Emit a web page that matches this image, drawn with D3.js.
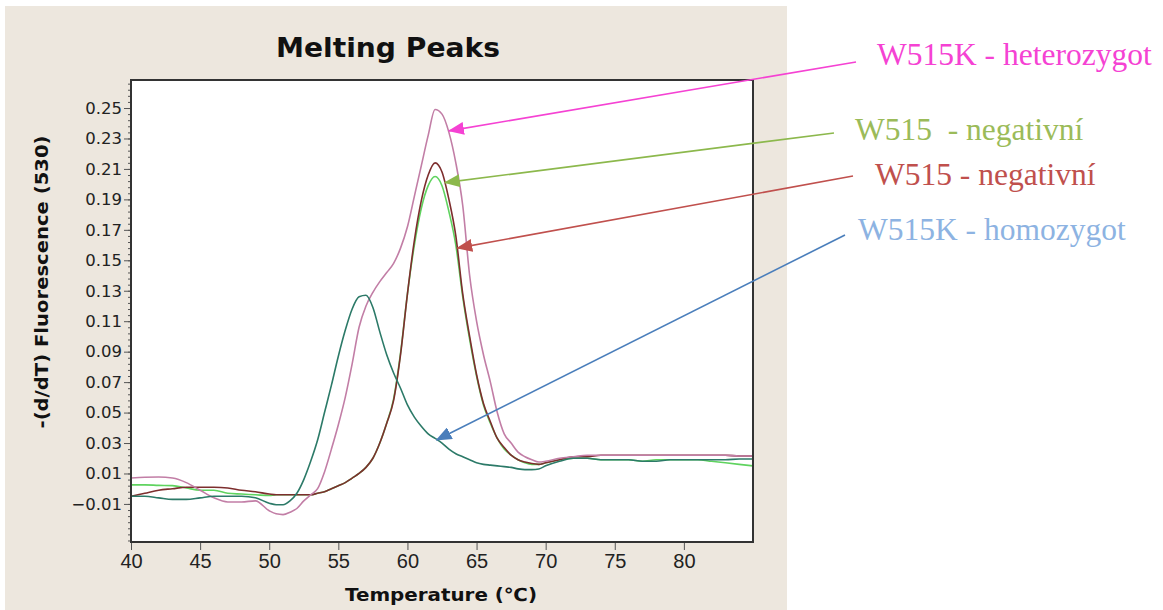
<!DOCTYPE html>
<html>
<head>
<meta charset="utf-8">
<script src="https://cdn.jsdelivr.net/npm/d3@7"></script>
<style>
  body { margin: 0; background: #fff; }
  svg { display: block; }
</style>
</head>
<body>
<svg id="chart"></svg>
<script>
// temperature grid (°C) shared by all four melting curves
const temps = [40, 41, 42, 43, 44, 45, 46, 47, 48, 49,
  50, 50.5, 51, 51.5, 52, 52.5, 53, 53.5, 54, 54.5, 55, 55.5, 56, 56.5, 57, 57.5, 58, 58.5, 59, 59.5,
  60, 60.5, 61, 61.5, 62, 62.5, 63, 63.5, 64, 64.5, 65, 65.5, 66, 66.5, 67, 67.5, 68, 68.5, 69, 69.5, 70,
  71, 72, 73, 74, 75, 76, 77, 78, 79, 80, 81, 82, 83, 84, 85];

// W515K - homozygot (teal)
const homozygot = [-0.005, -0.005, -0.006, -0.007, -0.007, -0.006, -0.005, -0.005, -0.005, -0.006,
  -0.0095, -0.0105, -0.0105, -0.008, -0.003, 0.006, 0.018, 0.032, 0.050, 0.068, 0.087, 0.104, 0.118, 0.126, 0.127, 0.119, 0.103, 0.088, 0.076, 0.066,
  0.055, 0.047, 0.041, 0.036, 0.033, 0.030, 0.026, 0.023, 0.021, 0.019, 0.017, 0.016, 0.0155, 0.015, 0.0145, 0.014, 0.013, 0.0125, 0.0125, 0.013, 0.015,
  0.018, 0.020, 0.020, 0.019, 0.019, 0.019, 0.018, 0.018, 0.019, 0.019, 0.019, 0.019, 0.019, 0.0195, 0.0195];

// W515K - heterozygot (pink)
const heterozygot = [0.007, 0.0075, 0.0077, 0.007, 0.004, -0.001, -0.006, -0.0087, -0.0087, -0.008,
  -0.0145, -0.0165, -0.017, -0.0155, -0.013, -0.008, -0.004, 0.000, 0.011, 0.026, 0.042, 0.060, 0.082, 0.106, 0.120, 0.129, 0.136, 0.142, 0.148, 0.158,
  0.172, 0.192, 0.212, 0.232, 0.249, 0.246, 0.234, 0.214, 0.186, 0.140, 0.110, 0.088, 0.070, 0.050, 0.036, 0.030, 0.024, 0.021, 0.019, 0.0175, 0.018,
  0.020, 0.021, 0.022, 0.022, 0.022, 0.022, 0.022, 0.022, 0.022, 0.022, 0.022, 0.022, 0.022, 0.0215, 0.0215];

// W515 - negativní (dark red)
const negativeRed = [-0.005, -0.003, -0.001, 0.000, 0.001, 0.001, 0.001, 0.0005, -0.001, -0.002,
  -0.0035, -0.004, -0.004, -0.004, -0.004, -0.004, -0.004, -0.003, -0.002, 0.000, 0.002, 0.004, 0.007, 0.010, 0.014, 0.020, 0.030, 0.043, 0.058, 0.088,
  0.128, 0.163, 0.189, 0.206, 0.214, 0.208, 0.190, 0.166, 0.128, 0.100, 0.075, 0.056, 0.044, 0.033, 0.027, 0.022, 0.019, 0.0175, 0.0165, 0.016, 0.017,
  0.019, 0.021, 0.021, 0.022, 0.022, 0.022, 0.022, 0.022, 0.022, 0.022, 0.022, 0.022, 0.022, 0.0215, 0.0215];

// W515 - negativní (green)
const negativeGreen = [0.0025, 0.0025, 0.0022, 0.002, 0.0005, -0.001, -0.001, -0.003, -0.0035, -0.004,
  -0.0045, -0.004, -0.004, -0.004, -0.004, -0.004, -0.004, -0.003, -0.002, 0.000, 0.002, 0.004, 0.007, 0.010, 0.014, 0.020, 0.030, 0.043, 0.059, 0.089,
  0.128, 0.160, 0.184, 0.199, 0.205, 0.199, 0.182, 0.160, 0.126, 0.098, 0.074, 0.055, 0.043, 0.033, 0.026, 0.022, 0.019, 0.017, 0.016, 0.016, 0.017,
  0.019, 0.020, 0.020, 0.019, 0.019, 0.019, 0.018, 0.019, 0.019, 0.019, 0.019, 0.018, 0.017, 0.016, 0.015];

const xTicks = [40, 45, 50, 55, 60, 65, 70, 75, 80];
const yTicks = [-0.01, 0.01, 0.03, 0.05, 0.07, 0.09, 0.11, 0.13, 0.15, 0.17, 0.19, 0.21, 0.23, 0.25];
const sampleLabels = ["W515K - heterozygot", "W515  - negativní", "W515 - negativní", "W515K - homozygot"];

const W = 1163, H = 610;
const svg = d3.select("#chart").attr("width", W).attr("height", H);

// grey panel of the instrument window
svg.append("rect").attr("x", 5).attr("y", 6).attr("width", 782).attr("height", 604).attr("fill", "#ede7de");

const x = d3.scaleLinear().domain([40, 85]).range([131, 753]);
const y = d3.scaleLinear().domain([-0.035, 0.2684]).range([542, 80]);

svg.append("rect")
    .attr("x", 131).attr("y", 80)
    .attr("width", 753 - 131).attr("height", 542 - 80)
    .attr("fill", "#fff");

svg.append("clipPath").attr("id", "plotClip")
  .append("rect").attr("x", 131).attr("y", 80).attr("width", 622).attr("height", 462);

// title
svg.append("text")
    .attr("x", 388).attr("y", 57)
    .attr("text-anchor", "middle")
    .attr("font-family", "DejaVu Sans, sans-serif")
    .attr("font-weight", "bold")
    .attr("font-size", 27)
    .attr("textLength", 224).attr("lengthAdjust", "spacingAndGlyphs")
    .attr("fill", "#111")
    .text("Melting Peaks");

// curves
const line = d3.line()
    .x((d, i) => x(temps[i]))
    .y(d => y(d))
    .curve(d3.curveMonotoneX);

const series = [
  { values: negativeGreen, color: "#5fd35f" },
  { values: negativeRed, color: "#7d2e2e" },
  { values: heterozygot, color: "#c27ea6" },
  { values: homozygot, color: "#2c7a68" }
];

svg.append("g").attr("clip-path", "url(#plotClip)")
  .selectAll("path")
  .data(series)
  .enter().append("path")
    .attr("d", d => line(d.values))
    .attr("fill", "none")
    .attr("stroke", d => d.color)
    .attr("stroke-width", 1.6);

// y axis: minor then major ticks
const minorY = d3.range(-0.034, 0.268, 0.004);
svg.append("g")
    .attr("transform", "translate(131,0)")
    .call(d3.axisLeft(y).tickValues(minorY).tickSize(3).tickFormat(""))
    .call(g => g.select(".domain").remove())
    .selectAll("line").attr("stroke", "#555");

const yAxis = svg.append("g")
    .attr("transform", "translate(131,0)")
    .call(d3.axisLeft(y).tickValues(yTicks).tickSize(7).tickPadding(2).tickFormat(d3.format(".2f")));
yAxis.select(".domain").remove();
yAxis.selectAll("line").attr("stroke", "#555");
yAxis.selectAll("text")
    .attr("font-family", "DejaVu Sans, sans-serif")
    .attr("font-size", 16.5)
    .attr("fill", "#222");

// x axis
const xAxis = svg.append("g")
    .attr("transform", "translate(0,542)")
    .call(d3.axisBottom(x).tickValues(xTicks).tickSize(8).tickPadding(4));
xAxis.select(".domain").remove();
xAxis.selectAll("line").attr("stroke", "#555");
xAxis.selectAll("text")
    .attr("font-family", "Liberation Sans, sans-serif")
    .attr("font-size", 20)
    .attr("fill", "#222");

// plot frame
svg.append("rect")
    .attr("x", 131).attr("y", 80)
    .attr("width", 622).attr("height", 462)
    .attr("fill", "none")
    .attr("stroke", "#333")
    .attr("stroke-width", 2);

// axis titles
svg.append("text")
    .attr("x", 441).attr("y", 601)
    .attr("text-anchor", "middle")
    .attr("font-family", "DejaVu Sans, sans-serif")
    .attr("font-weight", "bold")
    .attr("font-size", 18)
    .attr("textLength", 192).attr("lengthAdjust", "spacingAndGlyphs")
    .attr("fill", "#111")
    .text("Temperature (\u2103)");

svg.append("text")
    .attr("transform", "translate(48,282) rotate(-90)")
    .attr("text-anchor", "middle")
    .attr("font-family", "DejaVu Sans, sans-serif")
    .attr("font-weight", "bold")
    .attr("font-size", 17)
    .attr("textLength", 293).attr("lengthAdjust", "spacingAndGlyphs")
    .attr("fill", "#111")
    .text("-(d/dT) Fluorescence (530)");

// annotations: arrow tip in data units, tail and label in pixels
const notes = [
  { label: sampleLabels[0], color: "#f542d3", line: "#f542d3", tip: [63.0, 0.235], tail: [856, 62], at: [877, 65] },
  { label: sampleLabels[1], color: "#9bbb59", line: "#8cb84c", tip: [62.7, 0.201], tail: [834, 133], at: [855, 140] },
  { label: sampleLabels[2], color: "#c0504d", line: "#c0504d", tip: [63.6, 0.158], tail: [853, 176], at: [875, 185] },
  { label: sampleLabels[3], color: "#8db3e2", line: "#4a7ebb", tip: [62.1, 0.032], tail: [845, 235], at: [858, 240] }
];

const defs = svg.append("defs");
notes.forEach((n, i) => {
  defs.append("marker")
      .attr("id", "arrow" + i)
      .attr("viewBox", "0 0 16 13")
      .attr("refX", 15).attr("refY", 6.5)
      .attr("markerWidth", 16).attr("markerHeight", 13)
      .attr("markerUnits", "userSpaceOnUse")
      .attr("orient", "auto")
    .append("path")
      .attr("d", "M0,0 L16,6.5 L0,13 Z")
      .attr("fill", n.line);
});

svg.selectAll(".note-line")
  .data(notes)
  .enter().append("line")
    .attr("class", "note-line")
    .attr("x1", d => d.tail[0]).attr("y1", d => d.tail[1])
    .attr("x2", d => x(d.tip[0])).attr("y2", d => y(d.tip[1]))
    .attr("stroke", d => d.line)
    .attr("stroke-width", 1.6)
    .attr("marker-end", (d, i) => `url(#arrow${i})`);

svg.selectAll(".note-text")
  .data(notes)
  .enter().append("text")
    .attr("class", "note-text")
    .attr("x", d => d.at[0]).attr("y", d => d.at[1])
    .attr("font-family", "Liberation Serif, serif")
    .attr("font-size", 31.5)
    .attr("fill", d => d.color)
    .style("white-space", "pre")
    .text(d => d.label);
</script>
</body>
</html>
